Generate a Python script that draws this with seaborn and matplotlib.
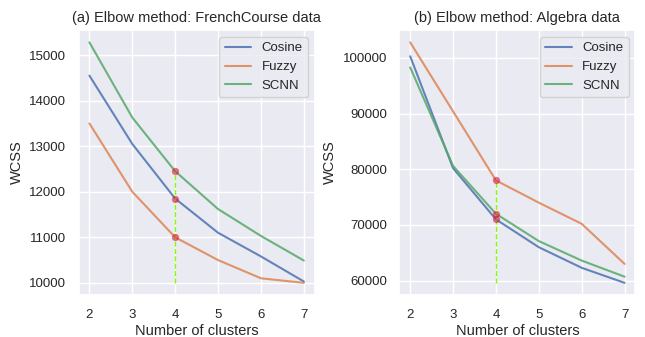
import numpy as np
import pandas as pd
import matplotlib
matplotlib.use("Agg")
import matplotlib.pyplot as plt
import seaborn as sns

clusters = [2, 3, 4, 5, 6, 7]
methods = ["Cosine", "Fuzzy", "SCNN"]

# (a) FrenchCourse
french_cosine = [14550, 13050, 11850, 11100, 10580, 10030]
french_fuzzy = [13500, 12000, 11000, 10500, 10100, 10000]
french_scnn = [15280, 13630, 12450, 11620, 11030, 10490]

# (b) Algebra
algebra_cosine = [100300, 80200, 71000, 66000, 62300, 59600]
algebra_fuzzy = [102800, 90400, 78000, 74000, 70200, 63000]
algebra_scnn = [98300, 80600, 72000, 67100, 63600, 60700]

elbow_k = 4


def make_df(cosine, fuzzy, scnn):
    rows = []
    for name, vals in zip(methods, [cosine, fuzzy, scnn]):
        for k, v in zip(clusters, vals):
            rows.append({"k": k, "WCSS": v, "method": name})
    return pd.DataFrame(rows)


sns.set_theme(style="darkgrid")
plt.rcParams["font.family"] = ["Liberation Sans", "DejaVu Sans"]

fig, axes = plt.subplots(1, 2, figsize=(6.45, 3.37), dpi=100)
palette = sns.color_palette("deep", 3)

panels = [
    ("(a) Elbow method: FrenchCourse data", make_df(french_cosine, french_fuzzy, french_scnn)),
    ("(b) Elbow method: Algebra data", make_df(algebra_cosine, algebra_fuzzy, algebra_scnn)),
]

for ax, (title, df) in zip(axes, panels):
    sns.lineplot(data=df, x="k", y="WCSS", hue="method", palette=palette,
                 ax=ax, linewidth=1.5, alpha=0.85)
    at_k = df[df["k"] == elbow_k]["WCSS"]
    ymin = df["WCSS"].min()
    ax.vlines(elbow_k, ymin, at_k.max(), colors="chartreuse", linestyles="--", linewidth=1)
    ax.scatter([elbow_k] * len(at_k), at_k, color="crimson", alpha=0.5, s=18, zorder=5)
    ax.set_title(title, fontsize=10.5, pad=6)
    ax.set_xlabel("Number of clusters", fontsize=10.5, labelpad=2)
    ax.set_ylabel("WCSS", fontsize=10.5)
    ax.set_xticks(clusters)
    ax.tick_params(labelsize=9.5)
    ax.tick_params(axis="x", pad=4)
    ax.tick_params(axis="y", pad=3)
    ax.legend(loc="upper right", fontsize=9.5)

fig.subplots_adjust(left=0.122, right=0.985, top=0.91, bottom=0.125, wspace=0.36)
fig.savefig("out.png", dpi=100)
